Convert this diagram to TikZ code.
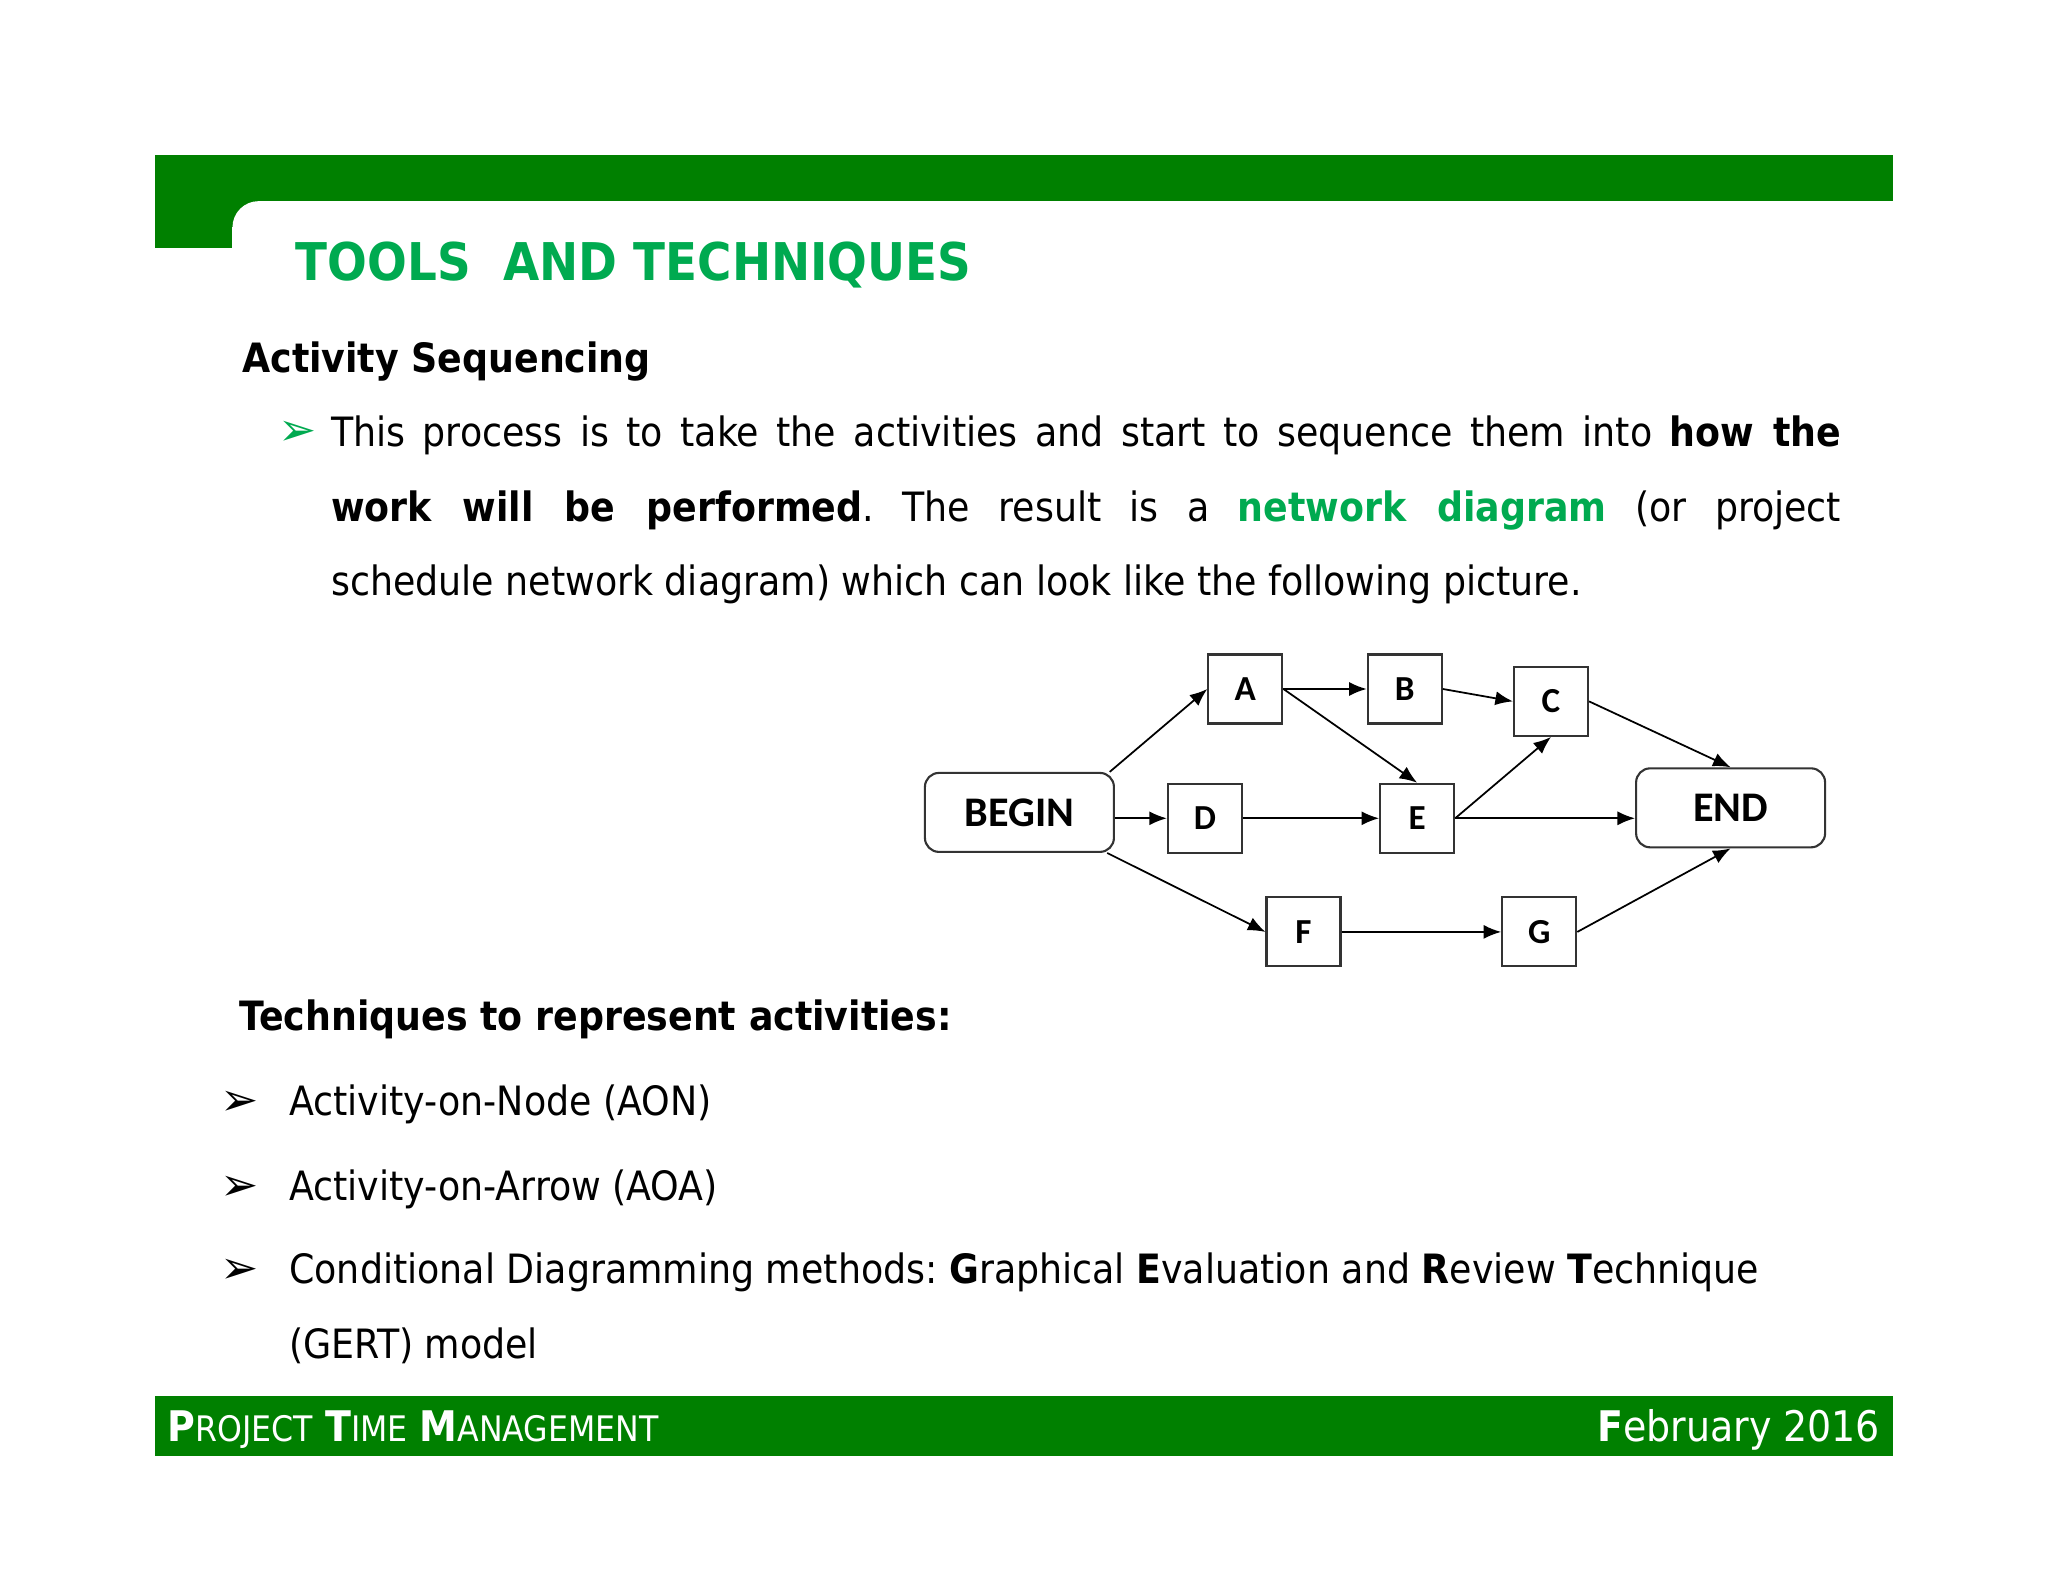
\documentclass[tikz,border=0pt]{standalone}
\usepackage{fontspec}
\setmainfont{DejaVu Sans Condensed}
\newfontfamily\dvfont{DejaVu Sans}
\newfontfamily\calfont{Carlito}
\usetikzlibrary{arrows.meta}
\frenchspacing
\definecolor{gbar}{RGB}{0,128,0}
\definecolor{gtxt}{RGB}{0,170,80}
\tikzset{
 box/.style={draw=black!80,line width=0.6pt,minimum width=0.74cm,minimum height=0.69cm,inner sep=0pt,font=\calfont\fontsize{10}{12}\selectfont\bfseries},
 rbox/.style={box,rounded corners=4pt,minimum width=1.89cm,minimum height=0.79cm,font=\calfont\fontsize{12}{14}\selectfont\bfseries},
 con/.style={-{Latex[length=5pt,width=4pt]},line width=0.5pt},
 body/.style={anchor=base west,inner sep=0pt,font=\fontsize{11.5}{14}\selectfont},
 bul/.style={anchor=base west,inner sep=0pt,font=\dvfont\fontsize{13}{15}\selectfont}
}
\begin{document}
\begin{tikzpicture}[x=0.01306cm,y=-0.01306cm]
\useasboundingbox (0,0) rectangle (1568,1211);
\fill[white] (0,0) rectangle (1568,1211);
% header
\fill[gbar] (119,119) rectangle (1449,154);
\fill[gbar] (119,119) rectangle (178,190);
\fill[gbar] (178,154) rectangle (198,174);
\fill[white] (198,174) circle (20);
\node[anchor=base west,inner sep=0pt,text=gtxt,font=\fontsize{14.8}{18}\selectfont\bfseries] (title) at (226,215) {TOOLS\ \ AND TECHNIQUES};
\node[anchor=base west,inner sep=0pt,font=\fontsize{11.5}{14}\selectfont\bfseries] (h1) at (185,285) {Activity Sequencing};
\node[bul,text=gtxt] (b0) at (213,341) {➢};
\node[anchor=north west,inner sep=0pt,text width=15.1cm,align=justify,font=\fontsize{11.5}{21.2}\selectfont] (par) at (253,318)
{\hyphenpenalty=10000\exhyphenpenalty=10000\frenchspacing This process is to take the activities and start to sequence them into \textbf{how the}\linebreak \textbf{work will be performed}. The result is a \textbf{\color{gtxt}network diagram} (or project\linebreak schedule network diagram) which can look like the following picture.};
% diagram
\node[rbox] (BEGIN) at (780.5,622) {BEGIN};
\node[box] (A) at (953.5,527.5) {A};
\node[box] (B) at (1075.5,527.5) {B};
\node[box] (C) at (1187.5,537) {C};
\node[box] (D) at (922.5,626.5) {D};
\node[box] (E) at (1085,626.5) {E};
\node[rbox] (END) at (1325,618.5) {END};
\node[box] (F) at (998,713.5) {F};
\node[box] (G) at (1178.5,713.5) {G};
\draw[con] (BEGIN.north east) ++(-4,0) -- (A.west);
\draw[con] (BEGIN.east |- D.west) -- (D.west);
\draw[con] (BEGIN.south east) ++(-6,0) -- (F.west);
\draw[con] (A.east) -- (B.west);
\draw[con] (A.east) -- (E.north);
\draw[con] (B.east) -- (C.west);
\draw[con] (E.east) -- (C.south);
\draw[con] (E.east) -- (E.east -| END.west);
\draw[con] (C.east) -- (END.north);
\draw[con] (D.east) -- (E.west);
\draw[con] (F.east) -- (G.west);
\draw[con] (G.east) -- (END.south);
% techniques
\node[anchor=base west,inner sep=0pt,font=\fontsize{11.5}{14}\selectfont\bfseries] (h2) at (183,789) {Techniques to represent activities:};
\node[bul] (b1) at (168,854) {➢};
\node[body] (t1) at (221,854) {Activity-on-Node (AON)};
\node[bul] (b2) at (168,919) {➢};
\node[body] (t2) at (221,919) {Activity-on-Arrow (AOA)};
\node[bul] (b3) at (168,983) {➢};
\node[body] (t3) at (221,983) {Conditional Diagramming methods: \textbf{G}raphical \textbf{E}valuation and \textbf{R}eview \textbf{T}echnique};
\node[body] (t4) at (221,1040) {(GERT) model};
% footer
\fill[gbar] (119,1069) rectangle (1449,1115);
\node[anchor=base west,inner sep=0pt,text=white,font=\fontsize{12}{14}\selectfont] (ft) at (128,1104) {\textbf{P}{\fontsize{10}{12}\selectfont ROJECT} \textbf{T}{\fontsize{10}{12}\selectfont IME} \textbf{M}{\fontsize{10}{12}\selectfont ANAGEMENT}};
\node[anchor=base east,inner sep=0pt,text=white,font=\fontsize{12}{14}\selectfont] (fd) at (1440,1104) {\textbf{F}ebruary 2016};
\end{tikzpicture}
\end{document}
